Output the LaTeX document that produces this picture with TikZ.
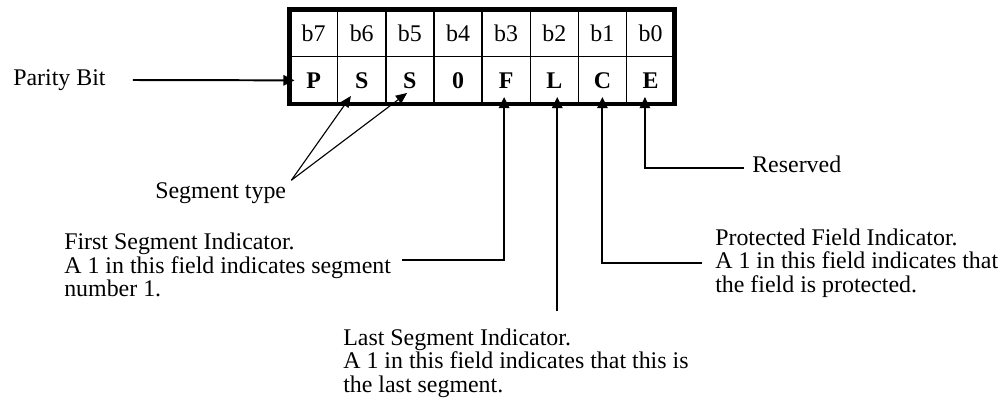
\documentclass[tikz,border=0pt]{standalone}
\usepackage{fontspec}
\setmainfont{Liberation Serif}
\usetikzlibrary{arrows.meta,positioning}

\begin{document}
\begin{tikzpicture}[
    x=0.025cm, y=-0.025cm,
    cell/.style={draw, line width=1pt, outer sep=0pt, inner sep=0pt, minimum width=1.203cm, minimum height=1.181cm, font=\fontsize{17}{16.6}\selectfont},
    flag/.style={cell, font=\fontsize{17}{16.6}\selectfont\bfseries},
    note/.style={align=left, inner sep=0pt, anchor=west, font=\fontsize{17}{16.6}\selectfont},
    frame/.style={line width=3.2pt},
    line/.style={-{Triangle[length=0.28cm, width=0.26cm]}, line width=1.4pt},
    thinline/.style={-{Triangle[length=0.28cm, width=0.24cm]}, line width=0.8pt}
]
\useasboundingbox (0,0) rectangle (1004,402);

% bit numbers
\node[cell] (b7) at (313.6,33.1) {b7};
\node[cell, right=0pt of b7] (b6) {b6};
\node[cell, right=0pt of b6] (b5) {b5};
\node[cell, right=0pt of b5] (b4) {b4};
\node[cell, right=0pt of b4] (b3) {b3};
\node[cell, right=0pt of b3] (b2) {b2};
\node[cell, right=0pt of b2] (b1) {b1};
\node[cell, right=0pt of b1] (b0) {b0};

% field letters
\node[flag, below=0pt of b7] (p) {P};
\node[flag, right=0pt of p] (s1) {S};
\node[flag, right=0pt of s1] (s2) {S};
\node[flag, right=0pt of s2] (z) {0};
\node[flag, right=0pt of z] (f) {F};
\node[flag, right=0pt of f] (l) {L};
\node[flag, right=0pt of l] (c) {C};
\node[flag, right=0pt of c] (e) {E};

\draw[frame] (b7.north west) rectangle (e.south east);

% descriptions
\node[note] (parity) at (13,80) {Parity Bit};
\node[note] (segtype) at (155,193) {Segment type};
\node[note] (first) at (64,265) {First Segment Indicator.\\A 1 in this field indicates segment\\number 1.};
\node[note] (last) at (343,363) {Last Segment Indicator.\\A 1 in this field indicates that this is\\the last segment.};
\node[note] (prot) at (715,263) {Protected Field Indicator.\\A 1 in this field indicates that\\the field is protected.};
\node[note] (reserved) at (752,164.5) {Reserved};

\coordinate (segjoin) at ([xshift=0.125cm, yshift=0.05cm]segtype.north east);
\coordinate[xshift=0.075cm, yshift=0.45cm] (lastend) at (l.south |- last.north);

\draw[line] ([xshift=0.675cm]parity.east) -- ([xshift=0.125cm]p.west);
\draw[thinline] (segjoin) -- ([xshift=-0.27cm, yshift=0.2cm]s1.south);
\draw[thinline] (segjoin) -- ([xshift=-0.07cm, yshift=0.275cm]s2.south);
\draw[line] ([xshift=0.275cm, yshift=0.125cm]first.east) -| ([xshift=-0.05cm, yshift=0.175cm]f.south);
\draw[line] (lastend) -- ([xshift=0.075cm, yshift=0.175cm]l.south);
\draw[line] ([xshift=-0.325cm]prot.west) -| ([yshift=0.175cm]c.south);
\draw[line] ([xshift=-0.2cm, yshift=-0.09cm]reserved.west) -| ([xshift=-0.14cm, yshift=0.175cm]e.south);
\end{tikzpicture}
\end{document}
